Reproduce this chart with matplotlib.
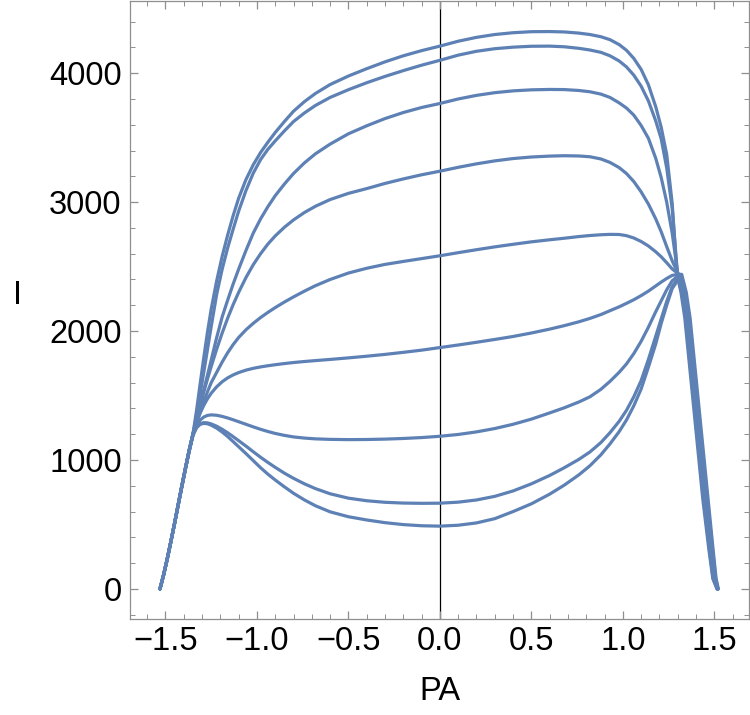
import numpy as np
import matplotlib.pyplot as plt
from matplotlib.ticker import MultipleLocator, FuncFormatter

plt.rcParams['font.family'] = ['Liberation Sans', 'DejaVu Sans']

# ================================
# DATA
# ================================
pa = [-1.53, -1.51, -1.49, -1.47, -1.45, -1.43, -1.41, -1.39, -1.37, -1.35,
      -1.33, -1.31, -1.29, -1.27, -1.25, -1.22, -1.19, -1.16, -1.13, -1.10,
      -1.06, -1.02, -0.98, -0.94, -0.90, -0.85, -0.80, -0.74, -0.68, -0.60,
      -0.50, -0.40, -0.30, -0.20, -0.10, 0.00, 0.10, 0.20, 0.30, 0.40,
      0.50, 0.60, 0.68, 0.76, 0.82, 0.88, 0.93, 0.98, 1.02, 1.06,
      1.10, 1.14, 1.18, 1.21, 1.24, 1.27]

i1 = [0, 110, 235, 372, 513, 660, 805, 945, 1080, 1200,
      1385, 1595, 1800, 1995, 2170, 2390, 2580, 2745, 2895, 3030,
      3175, 3290, 3385, 3465, 3540, 3625, 3705, 3780, 3843, 3912,
      3978, 4035, 4088, 4135, 4175, 4210, 4248, 4278, 4300, 4314,
      4322, 4323, 4320, 4311, 4300, 4283, 4260, 4222, 4178, 4115,
      4030, 3910, 3740, 3580, 3370, 2990]
i2 = [0, 110, 235, 370, 512, 658, 803, 943, 1078, 1190,
      1350, 1515, 1685, 1860, 2035, 2285, 2480, 2645, 2790, 2930,
      3090, 3225, 3330, 3410, 3475, 3552, 3625, 3692, 3750, 3812,
      3872, 3926, 3975, 4020, 4062, 4100, 4140, 4170, 4190, 4202,
      4209, 4210, 4205, 4193, 4180, 4162, 4135, 4095, 4049, 3985,
      3900, 3785, 3630, 3490, 3265, 2950]
i3 = [0, 110, 235, 370, 510, 656, 802, 942, 1078, 1200,
      1315, 1430, 1545, 1660, 1775, 1950, 2110, 2240, 2365, 2480,
      2625, 2760, 2870, 2965, 3050, 3140, 3222, 3305, 3375, 3450,
      3530, 3592, 3648, 3695, 3734, 3765, 3800, 3828, 3849, 3863,
      3871, 3874, 3873, 3866, 3856, 3838, 3812, 3770, 3730, 3675,
      3595, 3495, 3340, 3190, 3000, 2760]
i4 = [0, 110, 235, 370, 510, 655, 800, 940, 1076, 1200,
      1315, 1425, 1530, 1630, 1725, 1860, 1985, 2100, 2205, 2300,
      2415, 2515, 2600, 2675, 2738, 2805, 2862, 2920, 2968, 3020,
      3068, 3105, 3145, 3180, 3212, 3240, 3270, 3297, 3320, 3338,
      3350, 3357, 3360, 3358, 3352, 3335, 3308, 3268, 3222, 3160,
      3080, 2985, 2870, 2770, 2655, 2545]
i5 = [0, 110, 235, 370, 510, 655, 800, 940, 1075, 1200,
      1290, 1375, 1455, 1530, 1600, 1680, 1760, 1832, 1895, 1950,
      2010, 2060, 2105, 2145, 2182, 2225, 2265, 2310, 2352, 2400,
      2450, 2487, 2517, 2540, 2562, 2584, 2608, 2631, 2653, 2673,
      2692, 2708, 2720, 2733, 2741, 2747, 2750, 2749, 2740, 2722,
      2695, 2660, 2615, 2576, 2530, 2482]
i6 = [0, 110, 235, 370, 510, 655, 800, 940, 1075, 1200,
      1290, 1365, 1425, 1476, 1518, 1568, 1607, 1637, 1660, 1678,
      1697, 1711, 1722, 1731, 1739, 1748, 1756, 1764, 1771, 1780,
      1792, 1805, 1819, 1835, 1852, 1872, 1892, 1913, 1935, 1958,
      1985, 2015, 2042, 2072, 2098, 2128, 2158, 2188, 2215, 2243,
      2275, 2310, 2350, 2380, 2408, 2432]
i7 = [0, 110, 235, 370, 510, 654, 798, 938, 1073, 1195,
      1268, 1310, 1334, 1346, 1350, 1347, 1338, 1326, 1312, 1297,
      1277, 1257, 1238, 1221, 1206, 1191, 1179, 1170, 1164, 1160,
      1158, 1159, 1162, 1167, 1174, 1184, 1198, 1218, 1244, 1277,
      1317, 1365, 1405, 1450, 1490, 1548, 1610, 1680, 1745, 1825,
      1920, 2030, 2150, 2235, 2320, 2390]
i8 = [0, 110, 235, 370, 510, 654, 797, 937, 1072, 1192,
      1255, 1282, 1290, 1288, 1280, 1262, 1238, 1211, 1181, 1150,
      1108, 1064, 1021, 981, 943, 898, 858, 815, 778, 738,
      704, 684, 672, 666, 664, 665, 673, 690, 718, 760,
      815, 880, 940, 1005, 1062, 1135, 1212, 1300, 1385, 1490,
      1615, 1780, 1960, 2095, 2230, 2345]
i9 = [0, 110, 235, 370, 510, 653, 795, 935, 1070, 1190,
      1250, 1277, 1284, 1281, 1270, 1247, 1217, 1182, 1143, 1103,
      1050, 995, 940, 890, 845, 792, 742, 690, 645, 598,
      560, 535, 514, 499, 490, 487, 494, 512, 545, 600,
      660, 735, 805, 885, 955, 1040, 1125, 1220, 1310, 1420,
      1550, 1720, 1900, 2060, 2200, 2330]
curves = [i1, i2, i3, i4, i5, i6, i7, i8, i9]

# steep drop after the common crossing near PA = 1.3
drop_vals = [2440, 2300, 2100, 1700, 1200, 700, 300, 80, 0]
drop_pa = [
    [1.296, 1.318, 1.339, 1.367, 1.402, 1.437, 1.471, 1.492, 1.515],
    [1.299, 1.322, 1.343, 1.371, 1.406, 1.441, 1.474, 1.494, 1.516],
    [1.301, 1.325, 1.347, 1.375, 1.410, 1.445, 1.477, 1.497, 1.517],
    [1.304, 1.328, 1.350, 1.378, 1.413, 1.448, 1.479, 1.499, 1.518],
    [1.307, 1.331, 1.354, 1.382, 1.417, 1.452, 1.482, 1.501, 1.519],
    [1.310, 1.335, 1.357, 1.385, 1.420, 1.455, 1.485, 1.503, 1.520],
    [1.313, 1.338, 1.361, 1.389, 1.424, 1.459, 1.488, 1.506, 1.520],
    [1.317, 1.342, 1.364, 1.392, 1.427, 1.462, 1.491, 1.508, 1.521],
    [1.322, 1.347, 1.368, 1.396, 1.431, 1.466, 1.494, 1.510, 1.522],
]

# ================================
# PLOT
# ================================
fig = plt.figure(figsize=(7.5, 7.15), dpi=100)
ax = fig.add_axes([0.1733, 0.1343, 0.8254, 0.8643])

ax.axvline(0, color='black', lw=0.9, zorder=1)

for ys, dx in zip(curves, drop_pa):
    ax.plot(pa + dx, ys + drop_vals, color='#5E81B5', lw=2.3,
            solid_capstyle='round', solid_joinstyle='round', zorder=2)

ax.set_xlim(-1.694, 1.69)
ax.set_ylim(-233, 4560)

ax.xaxis.set_major_locator(MultipleLocator(0.5))
ax.xaxis.set_minor_locator(MultipleLocator(0.1))
ax.yaxis.set_major_locator(MultipleLocator(1000))
ax.yaxis.set_minor_locator(MultipleLocator(200))


def fmt_x(v, pos):
    s = f"{v:.1f}"
    if s == "-0.0":
        s = "0.0"
    return s.replace("-", "\u2212")


ax.xaxis.set_major_formatter(FuncFormatter(fmt_x))
ax.yaxis.set_major_formatter(FuncFormatter(lambda v, p: f"{int(round(v))}".replace("-", "\u2212")))

frame_col = '#8f8f8f'
for sp in ax.spines.values():
    sp.set_color(frame_col)
    sp.set_linewidth(0.9)

ax.tick_params(which='both', direction='in', top=True, right=True, color=frame_col,
               labelsize=23.5, labelcolor='black')
ax.tick_params(which='major', length=6, width=0.9)
ax.tick_params(axis='y', which='major', pad=6)
ax.tick_params(axis='x', which='major', pad=5)
ax.tick_params(which='minor', length=3.5, width=0.7)

ax.set_xlabel('PA', fontsize=23.5, va='center', ha='center')
ax.xaxis.set_label_coords(0.5008, -0.118)
ax.set_ylabel('I', fontsize=23.5, rotation=0, va='center', ha='center')
ax.yaxis.set_label_coords(-0.181, 0.523)

fig.savefig('out.png', dpi=100)
